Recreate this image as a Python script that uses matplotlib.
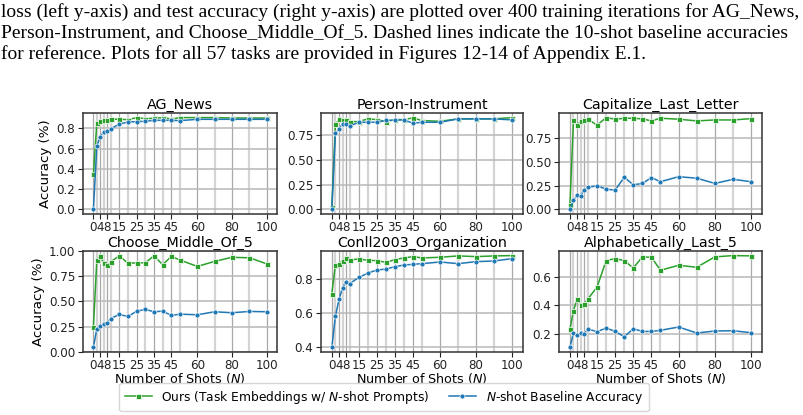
#!/usr/bin/env python3
"""Accuracy vs. number of shots for six tasks (ours vs. N-shot baseline)."""

import matplotlib
matplotlib.use("Agg")
import matplotlib.pyplot as plt
from matplotlib.ticker import FixedLocator

W, H = 804, 415

shots = [0, 2, 4, 6, 8, 10, 15, 20, 25, 30, 35, 40, 45, 50, 60, 70, 80, 90, 100]
labeled_shots = [0, 4, 8, 15, 25, 35, 45, 60, 80, 100]
other_shots = [s for s in shots if s not in labeled_shots]

tasks = ["AG_News", "Person-Instrument", "Capitalize_Last_Letter",
         "Choose_Middle_Of_5", "Conll2003_Organization", "Alphabetically_Last_5"]

ours_ag = [0.347, 0.857, 0.87, 0.88, 0.887, 0.893, 0.89, 0.887, 0.907, 0.897,
           0.9, 0.907, 0.893, 0.907, 0.907, 0.907, 0.903, 0.903, 0.903]
base_ag = [0.0, 0.627, 0.72, 0.763, 0.777, 0.797, 0.843, 0.863, 0.867, 0.87,
           0.88, 0.88, 0.88, 0.877, 0.89, 0.89, 0.89, 0.89, 0.89]

ours_pi = [0.024, 0.855, 0.905, 0.895, 0.895, 0.882, 0.882, 0.909, 0.902, 0.882,
           0.902, 0.902, 0.919, 0.892, 0.885, 0.909, 0.909, 0.909, 0.922]
base_pi = [0.0, 0.767, 0.807, 0.861, 0.855, 0.838, 0.875, 0.875, 0.875, 0.895,
           0.895, 0.899, 0.865, 0.875, 0.875, 0.909, 0.909, 0.909, 0.899]

ours_cap = [0.043, 0.946, 0.89, 0.936, 0.943, 0.954, 0.89, 0.971, 0.954, 0.964,
            0.964, 0.957, 0.936, 0.964, 0.954, 0.936, 0.946, 0.946, 0.96]
base_cap = [0.0, 0.096, 0.15, 0.143, 0.21, 0.232, 0.25, 0.214, 0.204, 0.34,
            0.26, 0.275, 0.336, 0.293, 0.346, 0.33, 0.275, 0.318, 0.293]

ours_mid = [0.247, 0.913, 0.947, 0.877, 0.857, 0.893, 0.953, 0.877, 0.883, 0.883,
            0.953, 0.863, 0.947, 0.91, 0.847, 0.897, 0.937, 0.933, 0.873]
base_mid = [0.043, 0.23, 0.257, 0.277, 0.283, 0.33, 0.37, 0.35, 0.403, 0.42,
            0.397, 0.403, 0.36, 0.373, 0.367, 0.397, 0.387, 0.40, 0.397]

ours_org = [0.716, 0.888, 0.892, 0.912, 0.928, 0.916, 0.922, 0.914, 0.912, 0.902,
            0.918, 0.928, 0.936, 0.928, 0.932, 0.94, 0.936, 0.94, 0.942]
base_org = [0.396, 0.582, 0.682, 0.752, 0.786, 0.776, 0.812, 0.838, 0.856, 0.862,
            0.876, 0.886, 0.89, 0.894, 0.904, 0.894, 0.906, 0.91, 0.924]

ours_alph = [0.231, 0.362, 0.445, 0.402, 0.407, 0.445, 0.527, 0.713, 0.727, 0.713,
             0.661, 0.739, 0.736, 0.645, 0.68, 0.666, 0.739, 0.748, 0.746]
base_alph = [0.104, 0.207, 0.191, 0.205, 0.2, 0.233, 0.214, 0.24, 0.216, 0.179,
             0.235, 0.216, 0.216, 0.224, 0.247, 0.205, 0.219, 0.221, 0.207]

ours_all = [ours_ag, ours_pi, ours_cap, ours_mid, ours_org, ours_alph]
base_all = [base_ag, base_pi, base_cap, base_mid, base_org, base_alph]

yticks_all = [
    [0.0, 0.2, 0.4, 0.6, 0.8],
    [0.0, 0.25, 0.5, 0.75],
    [0.0, 0.25, 0.5, 0.75],
    [0.0, 0.25, 0.5, 0.75, 1.0],
    [0.4, 0.6, 0.8],
    [0.2, 0.4, 0.6],
]
yfmt = ["%.1f", "%.2f", "%.2f", "%.2f", "%.1f", "%.1f"]

caption = [
    "loss (left y-axis) and test accuracy (right y-axis) are plotted over 400 training iterations for AG_News,",
    "Person-Instrument, and Choose_Middle_Of_5. Dashed lines indicate the 10-shot baseline accuracies",
    "for reference. Plots for all 57 tasks are provided in Figures 12-14 of Appendix E.1.",
]

GREEN = "#2ca02c"
BLUE = "#1f77b4"

fig = plt.figure(figsize=(W / 100, H / 100), dpi=100)

# caption text from the paper above the figure
for i, line in enumerate(caption):
    fig.text(1 / W, 1 - (17 + 21 * i) / H, line, family="Liberation Serif",
             fontsize=14.0, ha="left", va="baseline", color="black")

# axes boxes in pixels: (left, top, right, bottom)
lefts = [83, 321, 559]
rights = [277, 523, 762]
tops = [113, 251]
bottoms = [214, 352]

lines_for_legend = None
for k, name in enumerate(tasks):
    r, c = divmod(k, 3)
    l, rr = lefts[c], rights[c]
    t, b = tops[r], bottoms[r]
    ax = fig.add_axes([l / W, 1 - b / H, (rr - l) / W, (b - t) / H])

    ax.xaxis.set_major_locator(FixedLocator(labeled_shots))
    ax.xaxis.set_minor_locator(FixedLocator(other_shots))
    ax.set_xticklabels([str(s) for s in labeled_shots])
    ax.grid(True, which="minor", axis="x", color="#d4d4d4", lw=1.6, zorder=0)
    ax.grid(True, which="major", axis="x", color="#a8a8a8", lw=0.9, zorder=0)
    ax.grid(True, which="major", axis="y", color="#b8b8b8", lw=1.1, zorder=0)
    ax.set_axisbelow(True)

    lg, = ax.plot(shots, ours_all[k], color=GREEN, lw=1.1, marker="s", ms=3.6,
                  mec="white", mew=0.5, zorder=3)
    lb, = ax.plot(shots, base_all[k], color=BLUE, lw=1.1, marker="o", ms=3.6,
                  mec="white", mew=0.5, zorder=4)
    if lines_for_legend is None:
        lines_for_legend = [lg, lb]

    ax.set_yticks(yticks_all[k])
    ax.set_yticklabels([yfmt[k] % v for v in yticks_all[k]])
    ax.set_xlim(-6, 106)
    ax.set_title(name, fontsize=10.3, pad=3)
    ax.tick_params(axis="both", which="major", labelsize=8.6, length=3.5,
                   width=0.8, pad=2, colors="#222222")
    ax.tick_params(axis="x", which="major", pad=1.5)
    ax.tick_params(axis="x", which="minor", length=0)
    for sp in ax.spines.values():
        sp.set_color("#333333")
        sp.set_linewidth(1.1)
    if c == 0:
        ax.set_ylabel("Accuracy (%)", fontsize=9.6, labelpad=3)
    if r == 1:
        ax.set_xlabel("Number of Shots ($N$)", fontsize=9.2, labelpad=-0.5)

fig.legend(lines_for_legend,
           ["Ours (Task Embeddings w/ $N$-shot Prompts)", "$N$-shot Baseline Accuracy"],
           loc="center", bbox_to_anchor=(384 / W, 1 - 397 / H), ncol=2,
           fontsize=8.8, frameon=True, edgecolor="#cccccc", columnspacing=1.6,
           handlelength=2.2, borderpad=0.45)

fig.savefig("out.png", dpi=100)
